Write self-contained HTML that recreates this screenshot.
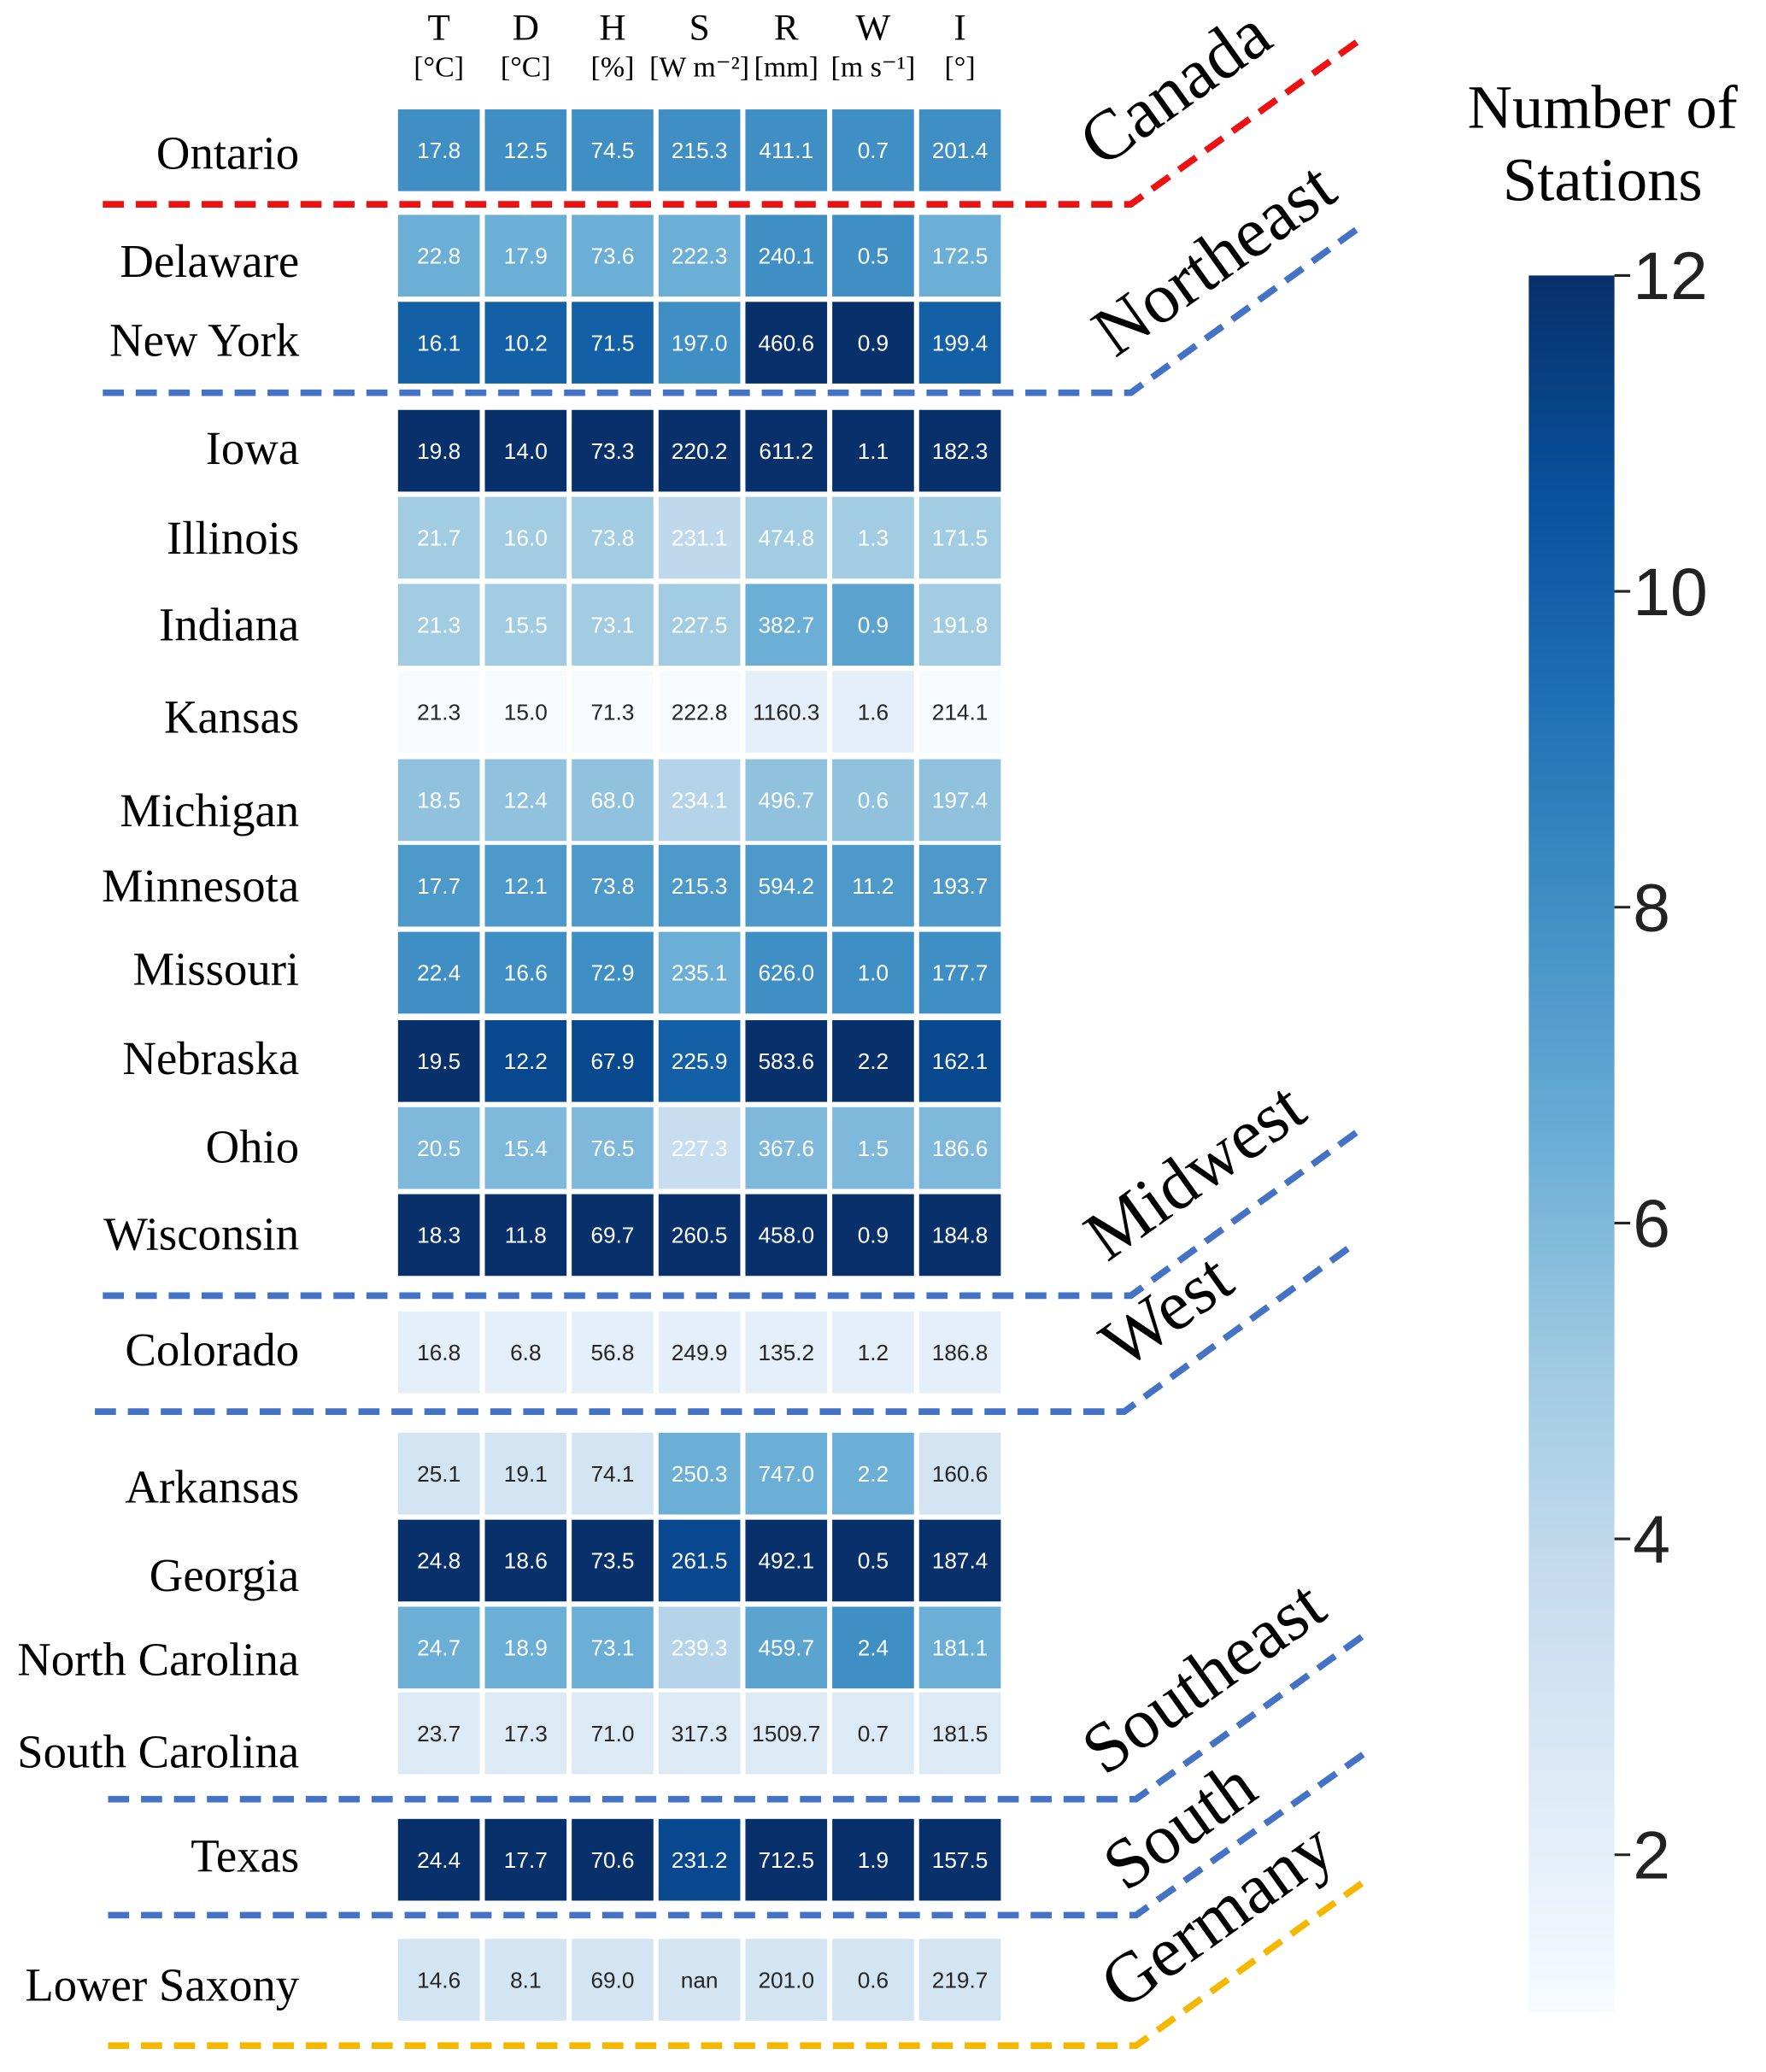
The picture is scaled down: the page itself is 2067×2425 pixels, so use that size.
<!DOCTYPE html>
<html><head><meta charset="utf-8"><style>
html,body{margin:0;padding:0;background:#fff;}
svg{display:block;}
</style></head><body>
<svg id="chart" xmlns="http://www.w3.org/2000/svg" width="2067" height="2425" viewBox="0 0 1340 1572" preserveAspectRatio="none">
<defs>
<linearGradient id="cbar" x1="0" y1="1" x2="0" y2="0">
<stop offset="0" stop-color="#f7fbff"/><stop offset="0.125" stop-color="#deebf7"/><stop offset="0.25" stop-color="#c6dbef"/><stop offset="0.375" stop-color="#9ecae1"/><stop offset="0.5" stop-color="#6baed6"/><stop offset="0.625" stop-color="#4292c6"/><stop offset="0.75" stop-color="#2171b5"/><stop offset="0.875" stop-color="#08519c"/><stop offset="1" stop-color="#08306b"/>
</linearGradient>
</defs>
</svg>
<script>
const columns = ["T","D","H","S","R","W","I"];
const units = ["[°C]","[°C]","[%]","[W m⁻²]","[mm]","[m s⁻¹]","[°]"];
const states = ["Ontario","Delaware","New York","Iowa","Illinois","Indiana","Kansas","Michigan","Minnesota","Missouri","Nebraska","Ohio","Wisconsin","Colorado","Arkansas","Georgia","North Carolina","South Carolina","Texas","Lower Saxony"];
const values = [
["17.8","12.5","74.5","215.3","411.1","0.7","201.4"],
["22.8","17.9","73.6","222.3","240.1","0.5","172.5"],
["16.1","10.2","71.5","197.0","460.6","0.9","199.4"],
["19.8","14.0","73.3","220.2","611.2","1.1","182.3"],
["21.7","16.0","73.8","231.1","474.8","1.3","171.5"],
["21.3","15.5","73.1","227.5","382.7","0.9","191.8"],
["21.3","15.0","71.3","222.8","1160.3","1.6","214.1"],
["18.5","12.4","68.0","234.1","496.7","0.6","197.4"],
["17.7","12.1","73.8","215.3","594.2","11.2","193.7"],
["22.4","16.6","72.9","235.1","626.0","1.0","177.7"],
["19.5","12.2","67.9","225.9","583.6","2.2","162.1"],
["20.5","15.4","76.5","227.3","367.6","1.5","186.6"],
["18.3","11.8","69.7","260.5","458.0","0.9","184.8"],
["16.8","6.8","56.8","249.9","135.2","1.2","186.8"],
["25.1","19.1","74.1","250.3","747.0","2.2","160.6"],
["24.8","18.6","73.5","261.5","492.1","0.5","187.4"],
["24.7","18.9","73.1","239.3","459.7","2.4","181.1"],
["23.7","17.3","71.0","317.3","1509.7","0.7","181.5"],
["24.4","17.7","70.6","231.2","712.5","1.9","157.5"],
["14.6","8.1","69.0","nan","201.0","0.6","219.7"]];
const stations = [
[8,8,8,8,8,8,8],
[6.5,6.5,6.5,6.5,8,8,6.5],
[10,10,10,8,12,12,10],
[12,12,12,12,12,12,12],
[5,5,5,4,5,5,5],
[5,5,5,5,6.5,7,5],
[1,1,1,1,2,2,1],
[5.5,5.5,5.5,4.3,5.5,5.5,5.5],
[7.5,7.5,7.5,7.5,7.5,7.5,7.5],
[8,8,8,6.5,8,8,8],
[12,11,11,10,12,12,11],
[6,6,6,3.6,6,6,6],
[12,12,12,12,12,12,12],
[2,2,2,2,2,2,2],
[3,3,3,6.5,6.5,6.5,3],
[12,12,12,11,12,12,12],
[6.5,6.5,6.5,4.3,7,8,6.5],
[2.5,2.5,2.5,2.5,2.5,2.5,2.5],
[12,12,12,11,12,12,12],
[3,3,3,3,3,3,3]];
const cbTicks = [2,4,6,8,10,12];
const regions = ["Canada","Northeast","Midwest","West","Southeast","South","Germany"];

const NS="http://www.w3.org/2000/svg";
const svg=document.getElementById('chart');
function mk(tag,attrs,parent){const e=document.createElementNS(NS,tag);for(const k in attrs)e.setAttribute(k,attrs[k]);(parent||svg).appendChild(e);return e;}
const rowTops=[83,163,229,311,377,443,509,576,641,707,774,840,906,995,1087,1153,1219,1284,1380,1471];
const labelY=[128,210,270,352,420,486,556,627,684,747,815,882,948,1036,1140,1207,1271,1341,1420,1518];
const colX=c=>302+c*65.9;
const cellW=62,cellH=62;
const vmin=1,vmax=12;
const stops=[[247,251,255],[222,235,247],[198,219,239],[158,202,225],[107,174,214],[66,146,198],[33,113,181],[8,81,156],[8,48,107]];
function color(v){let t=(v-vmin)/(vmax-vmin);t=Math.max(0,Math.min(1,t))*8;const i=Math.min(7,Math.floor(t)),f=t-i;const a=stops[i],b=stops[i+1];return 'rgb('+a.map((x,k)=>Math.round(x+(b[k]-x)*f)).join(',')+')';}
const serif='"Liberation Serif", serif', sans='"Liberation Sans", sans-serif';
columns.forEach((c,i)=>{
  const cx=colX(i)+cellW/2;
  const t=mk('text',{x:cx,y:30,'text-anchor':'middle','font-family':serif,'font-size':28,fill:'#000'});t.textContent=c;
  
  const u=mk('text',{x:cx,y:58,'text-anchor':'middle','font-family':serif,'font-size':22,fill:'#000'});u.textContent=units[i];
  
});
states.forEach((s,r)=>{
  const lbl=mk('text',{x:227,y:labelY[r],'text-anchor':'end','font-family':serif,'font-size':35.5,fill:'#000'});lbl.textContent=s;
  
  columns.forEach((c,i)=>{
    const v=stations[r][i];
    const rect=mk('rect',{x:colX(i),y:rowTops[r],width:cellW,height:cellH,fill:color(v)});
    
    const tx=mk('text',{x:colX(i)+cellW/2,y:rowTops[r]+cellH/2+6,'text-anchor':'middle','font-family':sans,'font-size':17,fill:v>3.3?'#fff':'#262626'});
    tx.textContent=values[r][i];
    
  });
});
const lines=[
 {x0:78,y:155,x1:858,x2:1035,y2:28,col:'#ee1111',lx:836,ly:128},
 {x0:78,y:298,x1:858,x2:1035,y2:170,col:'#4472c4',lx:846,ly:272},
 {x0:78,y:983,x1:858,x2:1035,y2:855,col:'#4472c4',lx:840,ly:958},
 {x0:72,y:1071,x1:853,x2:1030,y2:942,col:'#4472c4',lx:852,ly:1040},
 {x0:82,y:1365,x1:862,x2:1040,y2:1237,col:'#4472c4',lx:838,ly:1348},
 {x0:82,y:1453,x1:862,x2:1040,y2:1327,col:'#4472c4',lx:854,ly:1436},
 {x0:82,y:1552,x1:862,x2:1040,y2:1424,col:'#f5b800',lx:852,ly:1526}];
lines.forEach((L,i)=>{
  const p=mk('polyline',{points:`${L.x0},${L.y} ${L.x1},${L.y} ${L.x2},${L.y2}`,fill:'none',stroke:L.col,'stroke-width':5,'stroke-dasharray':'16 9'});
  
  const t=mk('text',{x:L.lx,y:L.ly,'font-family':serif,'font-size':54,fill:'#000',transform:`rotate(-35.5 ${L.lx} ${L.ly})`});
  t.textContent=regions[i];
  
});
const cbTop=209,cbBot=1527,cbX=1160,cbW=65;
const cy=v=>cbBot-(v-vmin)/(vmax-vmin)*(cbBot-cbTop);
const bar=mk('rect',{x:cbX,y:cbTop,width:cbW,height:cbBot-cbTop,fill:'url(#cbar)'});

cbTicks.forEach(v=>{
  const ln=mk('line',{x1:cbX+cbW,x2:cbX+cbW+12,y1:cy(v),y2:cy(v),stroke:'#222','stroke-width':2});
  
  const t=mk('text',{x:cbX+cbW+14,y:cy(v)+18,'font-family':sans,'font-size':51,fill:'#222'});t.textContent=v;
  
});
const t1=mk('text',{x:1216,y:97,'text-anchor':'middle','font-family':serif,'font-size':47,fill:'#000'});t1.textContent='Number of';

const t2=mk('text',{x:1216,y:152,'text-anchor':'middle','font-family':serif,'font-size':47,fill:'#000'});t2.textContent='Stations';

</script>
</body></html>
